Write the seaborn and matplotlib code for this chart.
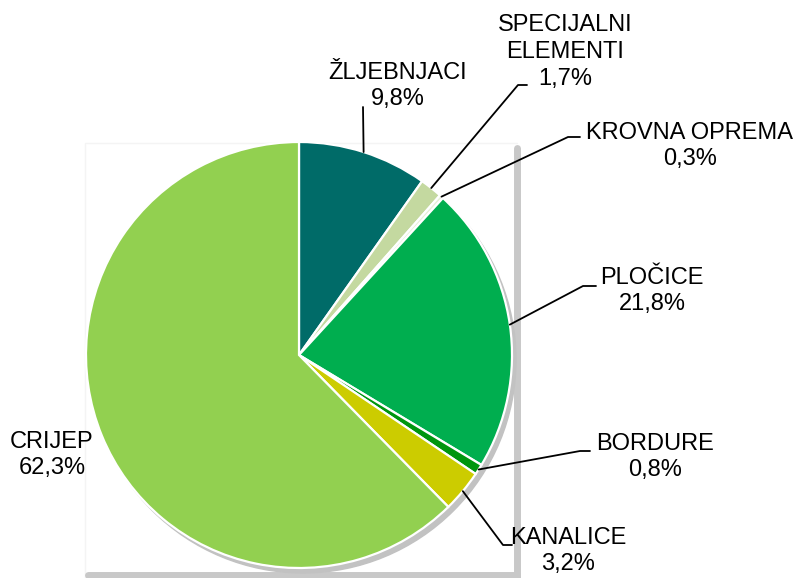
import numpy as np
import matplotlib
matplotlib.use("Agg")
import matplotlib.pyplot as plt
import seaborn as sns

# data
categories = ["ŽLJEBNJACI", "SPECIJALNI\nELEMENTI", "KROVNA OPREMA", "PLOČICE",
              "BORDURE", "KANALICE", "CRIJEP"]
shares = [9.8, 1.7, 0.3, 21.8, 0.8, 3.2, 62.3]
colors = ["#006B68", "#C4D9A0", "#E6EFD8", "#00AE4F", "#00960F", "#CCCC00", "#92D050"]

# label text centre (x, y in pixels from top-left) and leader elbow
label_pos = [(398, 86), (565, 52), (690, 146), (652, 291), (655, 457), (568, 551), (52, 455)]
elbows = [(363, 107), (518, 85), (568, 137), (583, 286), (580, 451), (503, 545), None]
ends = [None, (527, 85), (580, 137), (596, 286), (590, 451), (512, 545), None]

W, H = 801, 578
cx, cy, R = 299, 355, 213

sns.set_theme(style="white")
plt.rcParams["font.family"] = ["Liberation Sans", "DejaVu Sans"]

fig = plt.figure(figsize=(W / 100, H / 100), dpi=100)
ax = fig.add_axes([0, 0, 1, 1])


def fy(y):
    return H - y


# faint plot frame and grey shadow edges
ax.plot([85, 85, 517], [fy(578), fy(143), fy(143)], color="#F4F4F4", lw=1, zorder=0)
ax.plot([517, 517], [fy(148), fy(578)], color="#C8C8C8", lw=5, solid_capstyle="round", zorder=0)
ax.plot([88, 517], [fy(575), fy(575)], color="#C8C8C8", lw=5, solid_capstyle="round", zorder=0)
shadow = plt.Circle((cx + 4, fy(cy + 5)), R, color="#C2C2C2", zorder=1)
ax.add_patch(shadow)

wedges, _ = ax.pie(shares, colors=colors, startangle=90, counterclock=False,
                   center=(cx, fy(cy)), radius=R, frame=True,
                   wedgeprops=dict(edgecolor="white", linewidth=1.6))
for w in wedges:
    w.set_zorder(2)
ax.set_xlim(0, W)
ax.set_ylim(0, H)
ax.axis("off")

for w, name, val, lp, el, en in zip(wedges, categories, shares, label_pos, elbows, ends):
    txt = name + "\n" + f"{val:.1f}%".replace(".", ",")
    ax.text(lp[0], fy(lp[1]), txt, ha="center", va="center", fontsize=17,
            linespacing=1.28, color="black", zorder=5)
    if el is None:
        continue
    ang = np.deg2rad((w.theta1 + w.theta2) / 2)
    sx, sy = cx + R * np.cos(ang), fy(cy) + R * np.sin(ang)
    xs = [sx, el[0]]
    ys = [sy, fy(el[1])]
    if en is not None:
        xs.append(en[0])
        ys.append(fy(en[1]))
    ax.plot(xs, ys, color="black", lw=1.3, zorder=4)

fig.savefig("out.png", dpi=100)
